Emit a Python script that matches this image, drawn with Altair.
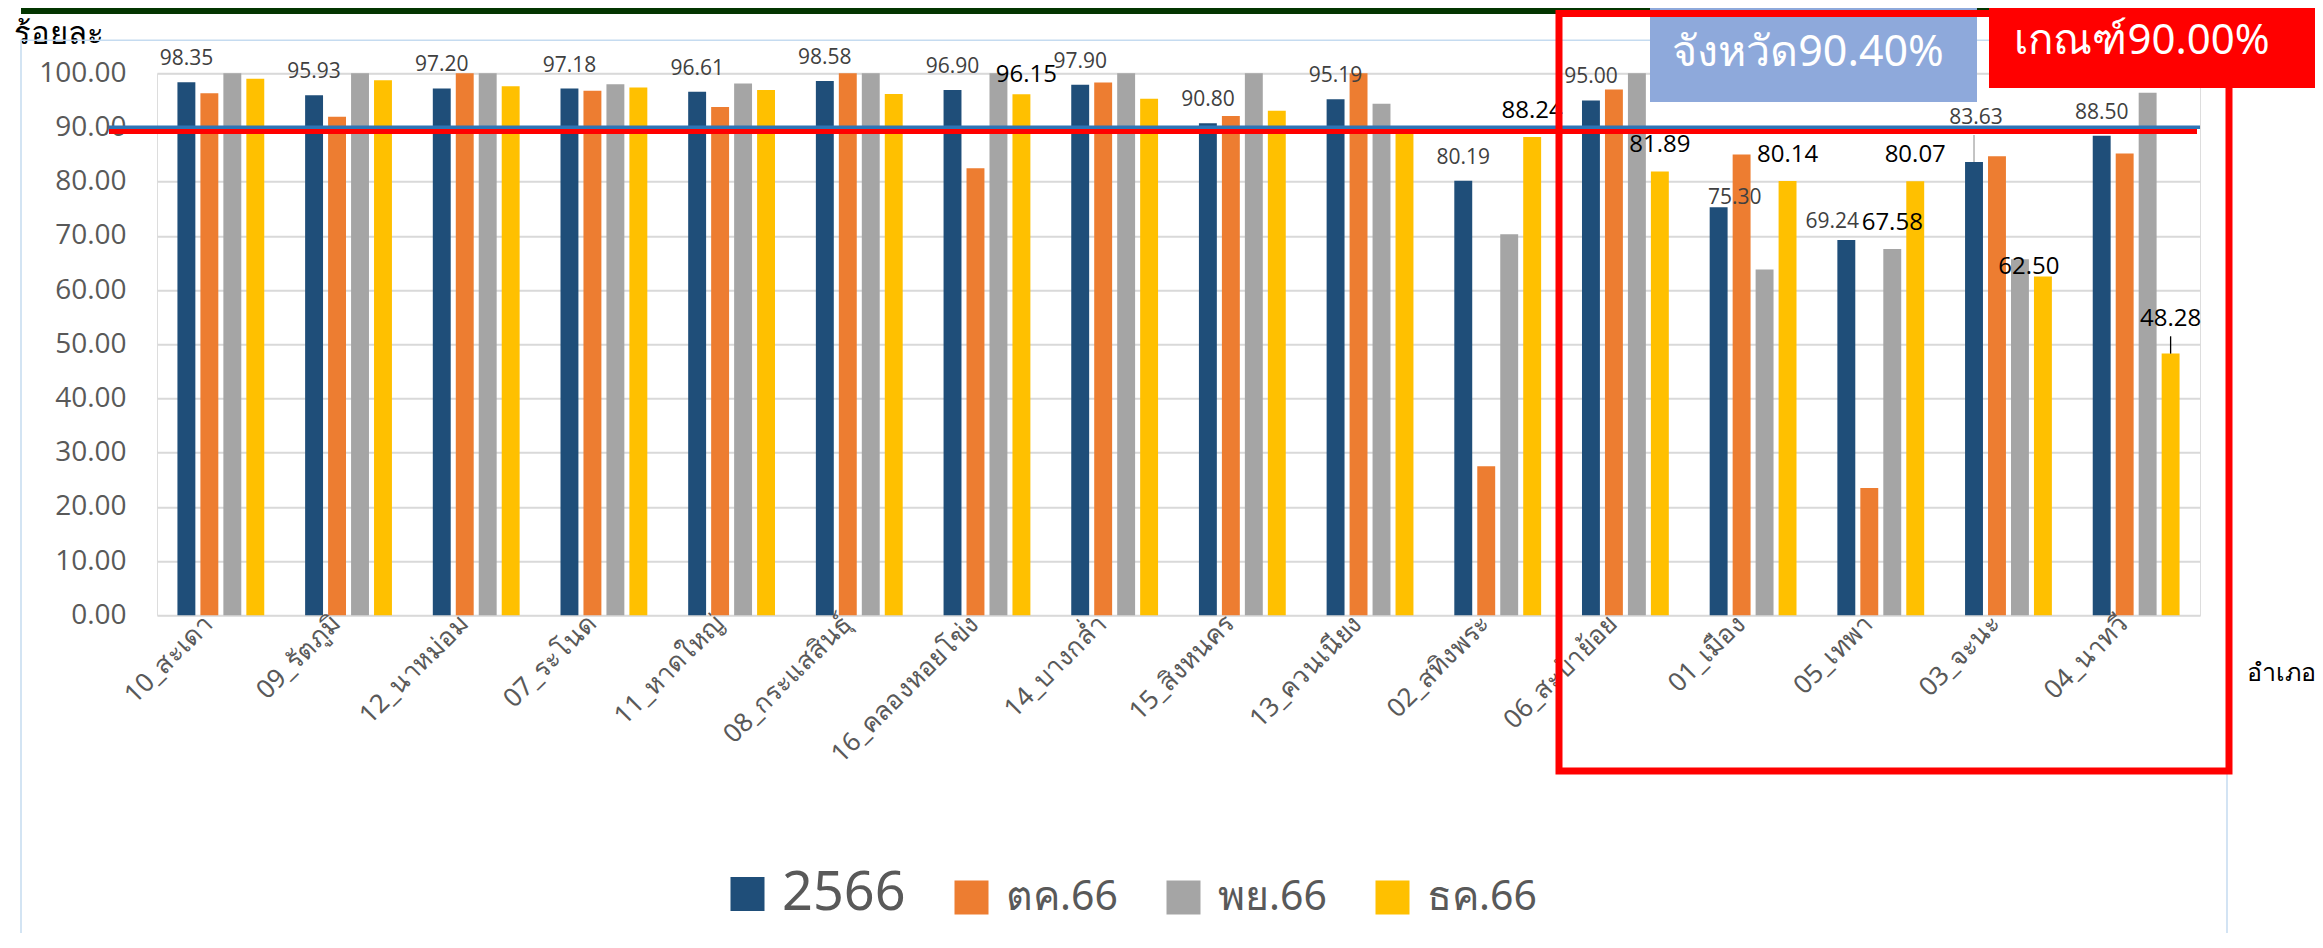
import altair as alt
import pandas as pd

# ---------------- data ----------------
districts = ["10_สะเดา", "09_รัตภูมิ", "12_นาหม่อม", "07_ระโนด", "11_หาดใหญ่",
             "08_กระแสสินธุ์", "16_คลองหอยโข่ง", "14_บางกล่ำ", "15_สิงหนคร",
             "13_ควนเนียง", "02_สทิงพระ", "06_สะบ้าย้อย", "01_เมือง", "05_เทพา",
             "03_จะนะ", "04_นาทวี"]
series_names = ["2566", "ตค.66", "พย.66", "ธค.66"]
v_2566 = [98.35, 95.93, 97.20, 97.18, 96.61, 98.58, 96.90, 97.90, 90.80, 95.19,
          80.19, 95.00, 75.30, 69.24, 83.63, 88.50]
v_oct66 = [96.3, 92.0, 100.0, 96.8, 93.8, 100.0, 82.5, 98.3, 92.1, 100.0,
           27.5, 97.0, 85.0, 23.5, 84.7, 85.2]
v_nov66 = [100.0, 100.0, 100.0, 98.0, 98.1, 100.0, 100.0, 100.0, 100.0, 94.4,
           70.3, 100.0, 63.8, 67.58, 65.7, 96.4]
v_dec66 = [99.0, 98.7, 97.6, 97.4, 96.9, 96.2, 96.15, 95.3, 93.1, 89.6,
           88.24, 81.89, 80.14, 80.07, 62.50, 48.28]
province_avg = 90.40
criterion = 90.00
y_ticks = [0, 10, 20, 30, 40, 50, 60, 70, 80, 90, 100]

# labels that are shown in black (larger) besides the 2566 labels
black_label_keys = ["16_คลองหอยโข่ง|ธค.66", "02_สทิงพระ|ธค.66", "06_สะบ้าย้อย|ธค.66",
                    "01_เมือง|ธค.66", "05_เทพา|พย.66", "05_เทพา|ธค.66",
                    "03_จะนะ|ธค.66", "04_นาทวี|ธค.66"]

colors = ["#1F4E79", "#ED7D31", "#A5A5A5", "#FFC000"]

rows = []
for i, d in enumerate(districts):
    for s, vals in zip(series_names, [v_2566, v_oct66, v_nov66, v_dec66]):
        rows.append({"district": d, "series": s, "value": vals[i],
                     "lbl": f"{vals[i]:.2f}", "key": f"{d}|{s}"})
df = pd.DataFrame(rows)

# ---------------- label styling (offsets in px) ----------------
nudges = {
    "01_เมือง|2566": (16, -3),
    "05_เทพา|2566": (-14, -12),
    "03_จะนะ|2566": (2, -38),
    "16_คลองหอยโข่ง|ธค.66": (5, -12),
    "03_จะนะ|ธค.66": (-14, -3),
    "04_นาทวี|ธค.66": (0, -28),
}
leaders = {"03_จะนะ|2566": (5.0, "#A5A5A5"), "04_นาทวี|ธค.66": (3.2, "#000000")}

gray_keys = [f"{d}|2566" for d in districts]
FONT = "Open Sans"

x_enc = alt.X("district:N", sort=districts,
              scale=alt.Scale(paddingInner=0.32, paddingOuter=0.16),
              axis=alt.Axis(title="อำเภอ", labelAngle=-45, labelFontSize=26,
                            labelColor="#595959", labelPadding=4, labelFont="Noto Sans",
                            labelAlign="right", labelBaseline="middle", labelLimit=400,
                            labelOffset=-12,
                            ticks=False, domain=False, grid=False,
                            titleX=2090, titleY=65, titleAlign="left", titleAngle=0,
                            titleBaseline="alphabetic", titleFontSize=25,
                            titleFontWeight="normal", titleColor="#000000",
                            titleFont="Noto Sans"))
xo_enc = alt.XOffset("series:N", sort=series_names,
                     scale=alt.Scale(paddingInner=0.22, paddingOuter=0))
y_enc = alt.Y("value:Q", scale=alt.Scale(domain=[0, 100], nice=False),
              axis=alt.Axis(values=y_ticks, format=".2f", labelFontSize=28,
                            labelColor="#595959", labelPadding=31, labelFont=FONT,
                            ticks=False, domain=False, gridColor="#D9D9D9", gridWidth=2,
                            title="ร้อยละ", titleAngle=0, titleX=-144, titleY=-30,
                            titleAlign="left", titleBaseline="alphabetic",
                            titleFontSize=31, titleFontWeight="normal",
                            titleColor="#000000", titleFont="Noto Sans"))

base = alt.Chart(df)

bars = base.mark_bar().encode(
    x=x_enc, xOffset=xo_enc, y=y_enc,
    color=alt.Color("series:N", sort=series_names,
                    scale=alt.Scale(domain=series_names, range=colors),
                    legend=alt.Legend(title=None, orient="none", legendX=570, legendY=800,
                                      direction="horizontal", symbolType="square",
                                      symbolSize=1156, symbolStrokeWidth=0,
                                      labelFontSize=alt.ExprRef(
                                          "datum.label == '2566' ? 54 : 41"),
                                      labelColor="#595959",
                                      labelFont="Noto Sans", labelOffset=14,
                                      columnPadding=45)),
)

one = pd.DataFrame({"k": [0]})

line_red = alt.Chart(one).mark_rule(color="#FF0000", strokeWidth=5, yOffset=4).encode(
    x=alt.value(-48), x2=alt.value(2040), y=alt.datum(criterion))
line_blue = alt.Chart(one).mark_rule(color="#2E75B6", strokeWidth=3.5, yOffset=2).encode(
    x=alt.value(-48), x2=alt.value(2043), y=alt.datum(province_avg))


def label_layer(keys, color, size, dx, dy):
    return base.transform_filter(
        alt.FieldOneOfPredicate(field="key", oneOf=keys)
    ).mark_text(color=color, fontSize=size, font=FONT, dx=dx, dy=dy,
                baseline="alphabetic", align="center").encode(
        x=x_enc, xOffset=xo_enc, y=y_enc, text="lbl:N")


label_layers = []
g_default = [k for k in gray_keys if k not in nudges]
b_default = [k for k in black_label_keys if k not in nudges]
label_layers.append(label_layer(g_default, "#404040", 21, 0, -17))
label_layers.append(label_layer(b_default, "#000000", 24, 0, -19))
for k, (dx, dy) in nudges.items():
    if k in gray_keys:
        label_layers.append(label_layer([k], "#404040", 21, dx, dy))
    else:
        label_layers.append(label_layer([k], "#000000", 24, dx, dy))

leader_layers = []
for k, (ln, col) in leaders.items():
    leader_layers.append(
        base.transform_filter(alt.FieldEqualPredicate(field="key", equal=k))
        .transform_calculate(top=f"datum.value + {ln}")
        .mark_rule(color=col, strokeWidth=1.3)
        .encode(x=x_enc, xOffset=xo_enc, y=y_enc, y2="top:Q")
    )

# ---------------- decorations ----------------
green_bar = alt.Chart(one).mark_rect(color="#033500").encode(
    x=alt.value(-136), x2=alt.value(2170), y=alt.value(-80), y2=alt.value(-59.3))
border = alt.Chart(one).mark_rect(fill=None, stroke="#C5DBF0", strokeWidth=1.5).encode(
    x=alt.value(-136), x2=alt.value(2070), y=alt.value(-33), y2=alt.value(900))

notes = pd.DataFrame({"prov": [f"จังหวัด{province_avg:.2f}%"],
                      "crit": [f"เกณฑ์{criterion:.2f}%"]})
blue_box = alt.Chart(one).mark_rect(color="#8EA9DB").encode(
    x=alt.value(1493), x2=alt.value(1820), y=alt.value(-69.3), y2=alt.value(28.7))
blue_text = alt.Chart(notes).mark_text(color="white", fontSize=43, font="Noto Sans",
                                       align="center", baseline="alphabetic").encode(
    x=alt.value(1651), y=alt.value(-7), text="prov:N")
red_outline = alt.Chart(one).mark_rect(fill=None, stroke="#FF0000", strokeWidth=7).encode(
    x=alt.value(1402), x2=alt.value(2072), y=alt.value(-59.8), y2=alt.value(697.7))
red_box = alt.Chart(one).mark_rect(color="#FF0000").encode(
    x=alt.value(1832), x2=alt.value(2180), y=alt.value(-80), y2=alt.value(14.7))
red_text = alt.Chart(notes).mark_text(color="white", fontSize=42, font="Noto Sans",
                                      align="center", baseline="alphabetic").encode(
    x=alt.value(1985), y=alt.value(-19), text="crit:N")

chart = alt.layer(
    green_bar, border, bars, line_red, line_blue, *label_layers, *leader_layers,
    blue_box, blue_text, red_outline, red_box, red_text
).properties(
    width=2043, height=542,
    autosize=alt.AutoSizeParams(type="none"),
    padding={"left": 149, "top": 65.3, "right": 115, "bottom": 318},
).configure_view(stroke=None).configure(font=FONT)

chart.save("out.html", embed_options={"renderer": "svg", "actions": False})
